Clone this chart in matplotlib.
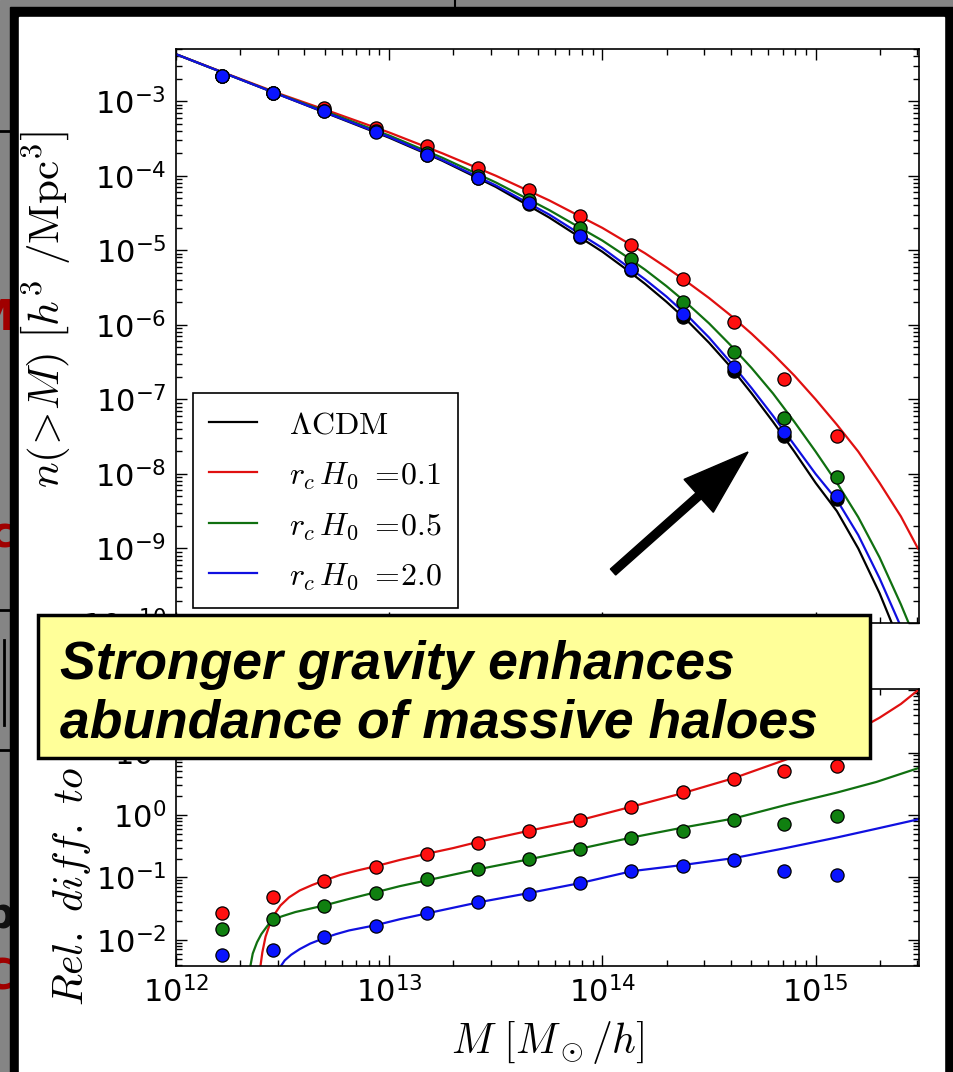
import numpy as np
import matplotlib
matplotlib.use("Agg")
import matplotlib.pyplot as plt
from matplotlib.patches import Rectangle, FancyArrow
from matplotlib.ticker import LogLocator, NullFormatter

plt.rcParams["mathtext.fontset"] = "cm"
plt.rcParams["axes.unicode_minus"] = False
plt.rcParams["font.family"] = ["DejaVu Sans"]

# ---- data (log10 values) ----
# mass bins of the simulation points, log10(M / (Msun/h))
logM_pts = [12.216, 12.455, 12.695, 12.939, 13.178, 13.418, 13.657,
            13.897, 14.136, 14.376, 14.615, 14.854, 15.099]

# cumulative mass function points, log10 n(>M)
n_lcdm_pts = [-2.668, -2.89, -3.12, -3.40, -3.72, -4.03, -4.38,
              -4.82, -5.27, -5.90, -6.62, -7.49, -8.33]
n_r01_pts = [-2.668, -2.89, -3.09, -3.36, -3.605, -3.894, -4.185,
             -4.542, -4.934, -5.38, -5.961, -6.728, -7.487]
n_r05_pts = [-2.668, -2.89, -3.13, -3.40, -3.70, -4.007, -4.319,
             -4.697, -5.122, -5.70, -6.371, -7.254, -8.036]
n_r20_pts = [-2.668, -2.89, -3.137, -3.41, -3.716, -4.028, -4.372,
             -4.81, -5.256, -5.858, -6.572, -7.442, -8.30]

# theory curves, log10 n(>M)
logM_line = [12.0, 12.25, 12.5, 12.75, 13.0, 13.25, 13.5, 13.75, 14.0,
             14.1, 14.2, 14.3, 14.4, 14.5, 14.6, 14.7, 14.8, 14.9, 15.0,
             15.1, 15.2, 15.3, 15.4, 15.48]
n_lcdm_line = [-2.37, -2.65, -2.93, -3.21, -3.49, -3.80, -4.15, -4.56, -5.02,
               -5.23, -5.45, -5.69, -5.95, -6.24, -6.56, -6.92, -7.30, -7.70,
               -8.12, -8.50, -9.0, -9.6, -10.3, -10.9]
n_r01_line = [-2.37, -2.645, -2.915, -3.165, -3.42, -3.70, -4.00, -4.33, -4.70,
              -4.87, -5.04, -5.23, -5.43, -5.64, -5.87, -6.12, -6.39, -6.68,
              -7.0, -7.34, -7.70, -8.12, -8.57, -9.0]
n_r05_line = [-2.37, -2.65, -2.925, -3.19, -3.46, -3.76, -4.09, -4.46, -4.87,
              -5.06, -5.26, -5.48, -5.72, -5.98, -6.27, -6.58, -6.92, -7.30,
              -7.70, -8.12, -8.58, -9.12, -9.75, -10.3]
n_r20_line = [-2.37, -2.65, -2.93, -3.205, -3.48, -3.79, -4.13, -4.52, -4.97,
              -5.18, -5.39, -5.62, -5.88, -6.17, -6.50, -6.85, -7.22, -7.61,
              -8.0, -8.35, -8.82, -9.4, -10.05, -10.6]

# relative difference to LCDM, points (log10)
rel_r01_pts = [-1.573, -1.317, -1.056, -0.837, -0.629, -0.443, -0.251,
               -0.08, 0.133, 0.373, 0.576, 0.70, 0.784]
rel_r05_pts = [-1.824, -1.669, -1.451, -1.243, -1.024, -0.869, -0.709,
               -0.539, -0.373, -0.251, -0.08, -0.144, -0.016]
rel_r20_pts = [-2.251, -2.171, -1.963, -1.771, -1.573, -1.397, -1.264,
               -1.083, -0.891, -0.816, -0.72, -0.891, -0.96]

# relative difference to LCDM, theory curves (log10)
logM_rel_r01 = [12.392, 12.395, 12.405, 12.42, 12.44, 12.46, 12.49, 12.53,
                12.58, 12.64, 12.695, 12.77, 12.85, 12.938, 13.05, 13.172,
                13.3, 13.418, 13.657, 13.897, 14.136, 14.376, 14.615, 14.854,
                15.0, 15.1, 15.2, 15.3, 15.4, 15.48]
rel_r01_line = [-2.6, -2.45, -2.2, -1.95, -1.75, -1.6, -1.45, -1.32,
                -1.21, -1.12, -1.05, -0.96, -0.89, -0.82, -0.72, -0.624,
                -0.53, -0.43, -0.251, -0.08, 0.133, 0.35, 0.59, 0.88,
                1.07, 1.21, 1.37, 1.56, 1.78, 2.0]
logM_rel_r05 = [12.343, 12.35, 12.36, 12.38, 12.40, 12.43, 12.46, 12.50,
                12.56, 12.63, 12.695, 12.8, 12.938, 13.05, 13.172, 13.418,
                13.657, 13.897, 14.138, 14.38, 14.617, 14.859, 15.1, 15.285,
                15.48]
rel_r05_line = [-2.6, -2.4, -2.22, -2.04, -1.91, -1.77, -1.67, -1.62,
                -1.555, -1.5, -1.45, -1.355, -1.237, -1.14, -1.051, -0.869,
                -0.709, -0.539, -0.36, -0.2, -0.055, 0.16, 0.36, 0.53, 0.75]
logM_rel_r20 = [12.485, 12.49, 12.51, 12.54, 12.58, 12.63, 12.695, 12.75,
                12.812, 12.938, 13.05, 13.172, 13.418, 13.657, 13.897, 14.138,
                14.38, 14.617, 14.859, 15.1, 15.285, 15.48]
rel_r20_line = [-2.6, -2.43, -2.33, -2.24, -2.15, -2.06, -1.973, -1.91,
                -1.85, -1.765, -1.67, -1.58, -1.40, -1.25, -1.09, -0.90,
                -0.80, -0.69, -0.53, -0.36, -0.22, -0.07]

labels = [r"$\Lambda\mathrm{CDM}$", r"$r_c\,H_0\ =\!0.1$",
          r"$r_c\,H_0\ =\!0.5$", r"$r_c\,H_0\ =\!2.0$"]
colors = ["k", "#e01010", "#107010", "#1010e0"]
point_colors = ["k", "#ff1010", "#108010", "#0a14ff"]


def p10(v):
    return np.power(10.0, np.asarray(v))


W, H = 954, 1072
fig = plt.figure(figsize=(W / 100, H / 100), dpi=100)


def px_rect(x0, y0, x1, y1):
    return [x0 / W, 1 - y1 / H, (x1 - x0) / W, (y1 - y0) / H]


# ---- background: slide behind the screenshot ----
bg = fig.add_axes([0, 0, 1, 1], zorder=0)
bg.set_xlim(0, W)
bg.set_ylim(H, 0)
bg.axis("off")
bg.add_patch(Rectangle((0, 0), W, H, color="#858585", zorder=0))
for yy in [131, 610, 750]:
    bg.plot([0, 10], [yy, yy], color="k", lw=2, zorder=1)
bg.plot([4, 4], [640, 725], color="k", lw=2, zorder=1)
bg.plot([455, 455], [0, 8], color="k", lw=1.5, zorder=1)
for txt, yy, col in [("M", 318, "#a00000"), ("c", 535, "#a00000"),
                     ("b", 915, "#111111"), ("C", 978, "#a00000")]:
    bg.text(14, yy, txt, ha="right", va="center", fontsize=30,
            fontweight="bold", color=col, zorder=2)
bg.add_patch(Rectangle((10, 7), W - 10, H, color="k", zorder=3))
bg.add_patch(Rectangle((19, 17), 944 - 19, H, color="white", zorder=4))

# ---- the two panels ----
ax1 = fig.add_axes(px_rect(176, 49, 919, 623), zorder=1)
ax2 = fig.add_axes(px_rect(176, 689, 919, 966), zorder=1)

lines_top = [n_lcdm_line, n_r01_line, n_r05_line, n_r20_line]
pts_top = [n_lcdm_pts, n_r01_pts, n_r05_pts, n_r20_pts]
for ln, c, lab in zip(lines_top, colors, labels):
    ax1.plot(p10(logM_line), p10(ln), color=c, lw=1.6, label=lab, zorder=2)
for pt, c in zip(pts_top, point_colors):
    ax1.plot(p10(logM_pts), p10(pt), "o", color=c, ms=9.5, mec="k",
             mew=0.9, zorder=3)

rel_lines = [(logM_rel_r01, rel_r01_line), (logM_rel_r05, rel_r05_line),
             (logM_rel_r20, rel_r20_line)]
rel_pts = [rel_r01_pts, rel_r05_pts, rel_r20_pts]
for (lx, ly), c in zip(rel_lines, colors[1:]):
    ax2.plot(p10(lx), p10(ly), color=c, lw=1.6, zorder=2)
for pt, c in zip(rel_pts, point_colors[1:]):
    ax2.plot(p10(logM_pts), p10(pt), "o", color=c, ms=9.5, mec="k",
             mew=0.9, zorder=3)

for ax in (ax1, ax2):
    ax.set_xscale("log")
    ax.set_yscale("log")
    ax.set_xlim(1e12, p10(15.485))
    for axis in (ax.xaxis, ax.yaxis):
        axis.set_major_locator(LogLocator(base=10, numticks=30))
        axis.set_minor_locator(LogLocator(base=10, subs=np.arange(2, 10),
                                          numticks=30))
        axis.set_minor_formatter(NullFormatter())
    ax.tick_params(which="both", direction="in", top=True, right=True,
                   width=1)
    ax.tick_params(which="major", length=8, labelsize=22, pad=7)
    ax.tick_params(which="minor", length=4)
    for sp in ax.spines.values():
        sp.set_linewidth(1.2)

ax1.set_ylim(1e-10, p10(-2.3))
ax2.set_ylim(p10(-2.42), p10(2.02))
ax1.tick_params(labelbottom=False)

ax1.set_ylabel(r"$n(\!>\!M)\ \left[h^3\ /\mathrm{Mpc}^3\right]$", fontsize=31)
ax1.yaxis.set_label_coords(-0.14, 0.545)
ax2.set_ylabel(r"$Rel.\ diff.\ to\ \Lambda CDM$", fontsize=30)
ax2.yaxis.set_label_coords(-0.112, 0.555)
ax2.set_xlabel(r"$M\ \left[M_\odot/h\right]$", fontsize=30)
ax2.xaxis.set_label_coords(0.5, -0.19)

leg = ax1.legend(loc="lower left", bbox_to_anchor=(0.023, 0.026),
                 borderaxespad=0, fancybox=False, edgecolor="k",
                 framealpha=1, fontsize=23, handlelength=1.5,
                 handletextpad=1.0, labelspacing=0.6, borderpad=0.5)
leg.get_frame().set_linewidth(1.2)

# ---- overlay: callout box and arrow ----
fg = fig.add_axes([0, 0, 1, 1], zorder=5)
fg.set_xlim(0, W)
fg.set_ylim(H, 0)
fg.axis("off")
fg.patch.set_visible(False)
fg.add_patch(Rectangle((38, 615), 832, 143, facecolor="#ffff99",
                       edgecolor="k", lw=2.5))
for txt, yy in [("Stronger gravity enhances", 679),
                ("abundance of massive haloes", 737)]:
    fg.text(60, yy, txt, fontsize=38.5, fontweight="bold", fontstyle="italic",
            family=["Liberation Sans", "DejaVu Sans"], va="baseline",
            ha="left")
fg.add_patch(FancyArrow(613, 572, 748 - 613, 452 - 572, width=8,
                        head_width=44, head_length=66,
                        length_includes_head=True, color="k"))

fig.savefig("out.png", dpi=100)
